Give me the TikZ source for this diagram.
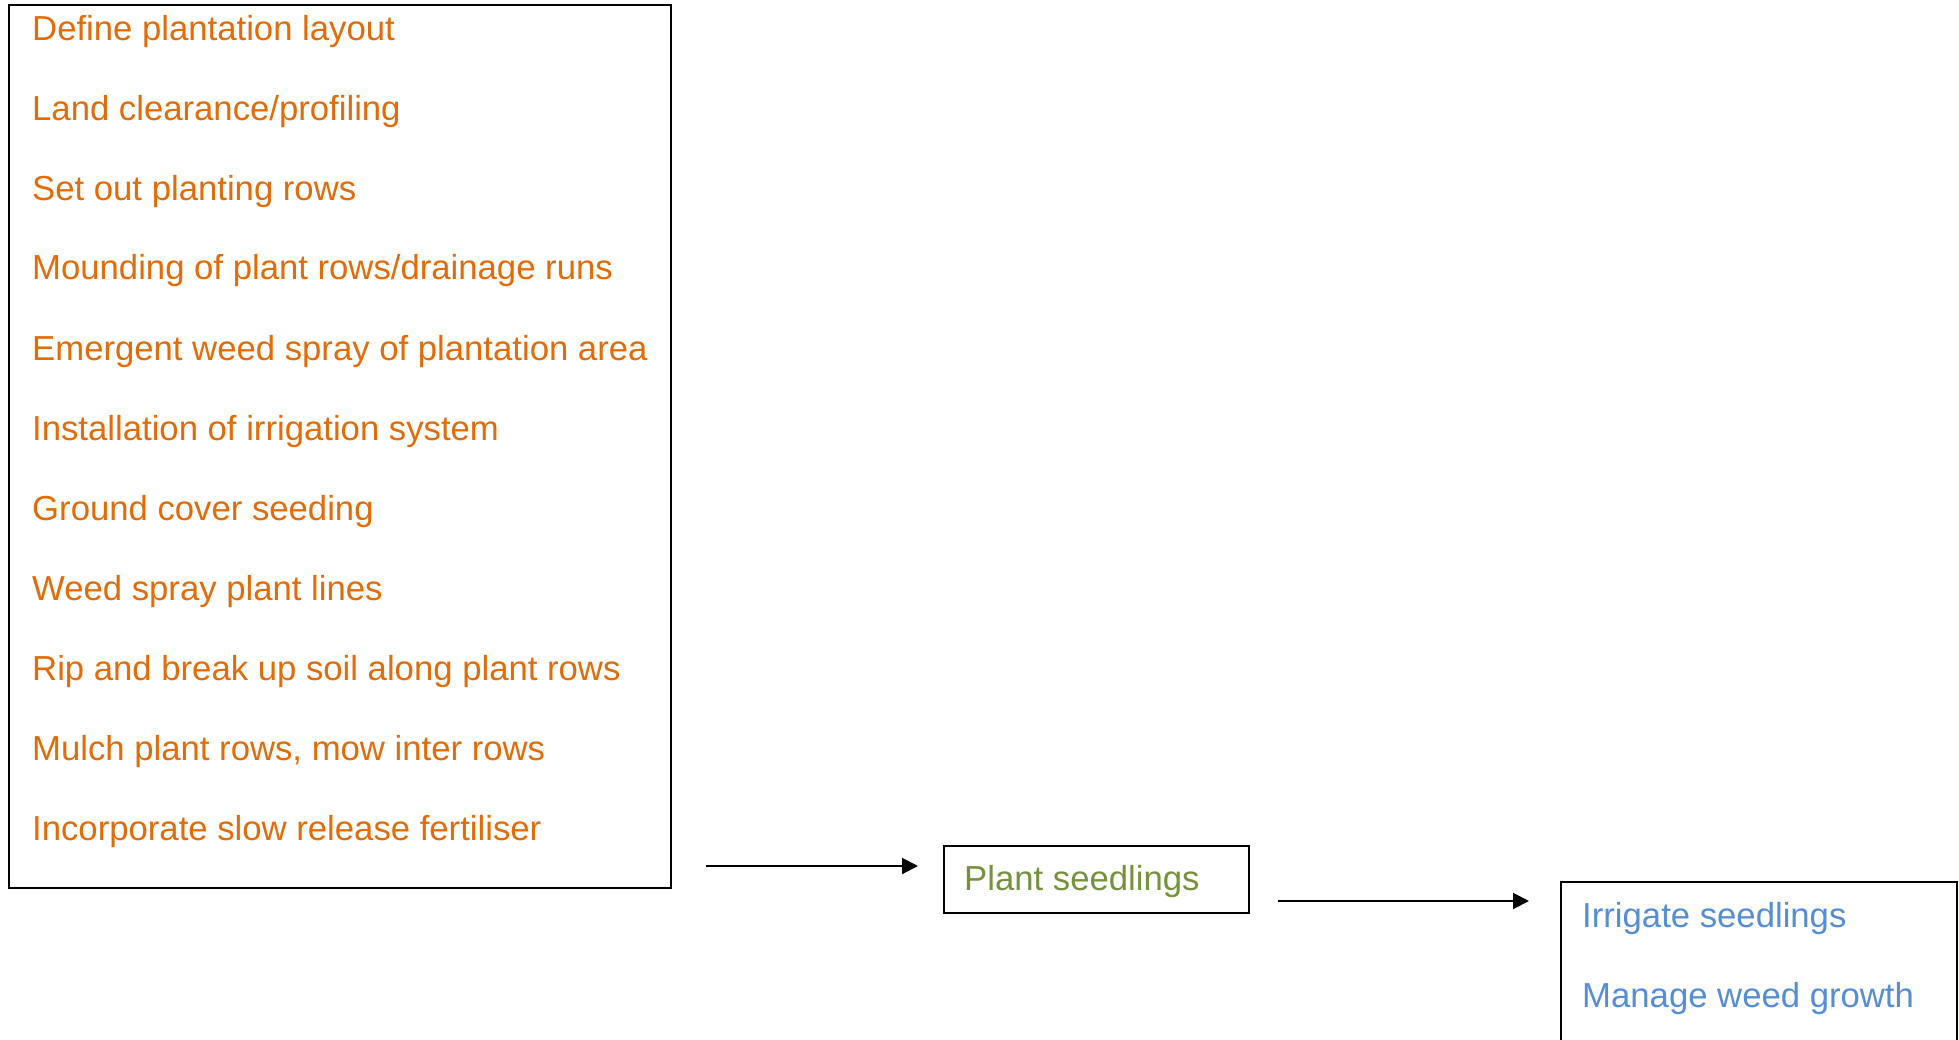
\documentclass[tikz,border=0pt]{standalone}
\usepackage{fontspec}
\setmainfont{Liberation Sans}
\usetikzlibrary{arrows.meta}
\definecolor{steporange}{HTML}{E36C09}
\definecolor{stepgreen}{HTML}{76923C}
\definecolor{stepblue}{HTML}{558ED5}
\tikzset{
  frame/.style={draw, line width=2pt},
  task/.style={anchor=base west, inner sep=0pt, font=\fontsize{34.7}{40}\selectfont},
  flow/.style={line width=2pt, -{Triangle[length=16pt,width=16pt]}}
}
\begin{document}
\begin{tikzpicture}[x=1pt, y=-1pt]
      \useasboundingbox (0,0) rectangle (1959,1040);
      \draw[frame] (9,5) rectangle (671,888);
      \draw[frame] (944,846) rectangle (1249,913);
      \draw[frame] (1561,882) rectangle (1957,1060);
      \draw[steporange]
        (32,41) node[task] (t1){Define plantation layout}
        (32,121) node[task] (t2){Land clearance/profiling}
        (32,201) node[task] (t3){Set out planting rows}
        (32,280) node[task] (t4){Mounding of plant rows/drainage runs}
        (32,360) node[task] (t5){Emergent weed spray of plantation area}
        (32,440) node[task] (t6){Installation of irrigation system}
        (32,520) node[task] (t7){Ground cover seeding}
        (32,600) node[task] (t8){Weed spray plant lines}
        (32,680) node[task] (t9){Rip and break up soil along plant rows}
        (32,760) node[task] (t10){Mulch plant rows, mow inter rows}
        (32,840) node[task] (t11){Incorporate slow release fertiliser};
      \draw[stepgreen]
        (964,890) node[task] (p1){Plant seedlings};
      \draw[stepblue]
        (1582,927) node[task] (c1){Irrigate seedlings}
        (1582,1007) node[task] (c2){Manage weed growth};
      \coordinate (a1) at (706,866);
      \coordinate (b1) at (918,866);
      \coordinate (a2) at (1278,901);
      \coordinate (b2) at (1529,901);
      \begin{scope}[flow]
        \draw (a1) to (b1);
        \draw (a2) to (b2);
      \end{scope}
    \end{tikzpicture}
\end{document}
